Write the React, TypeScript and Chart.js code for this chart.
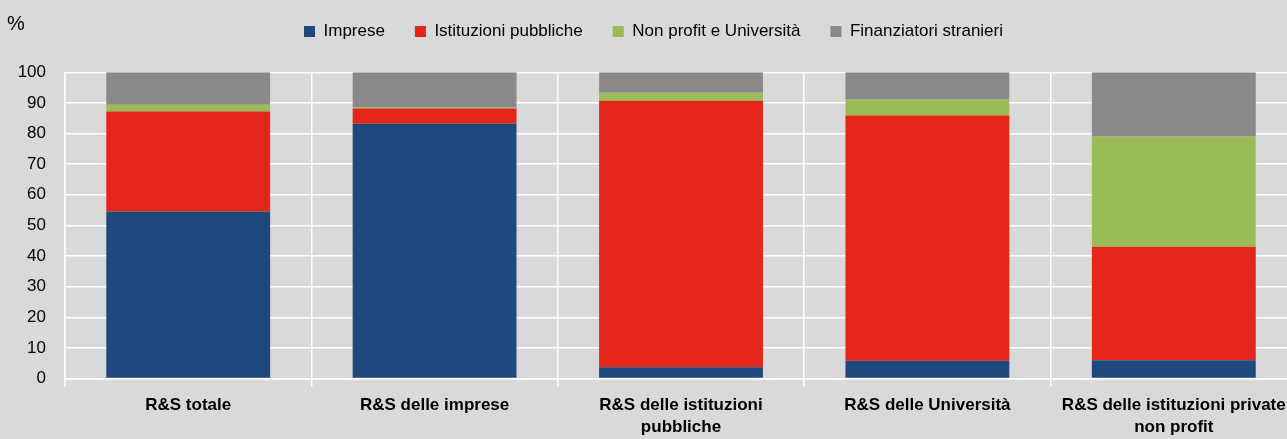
import React, { useEffect, useRef } from "react";
import { Chart, registerables } from "chart.js";

Chart.register(...registerables);

const FONT = "'Liberation Sans', Arial, Helvetica, sans-serif";

// Categories (x axis labels, multi-line where the reference wraps)
const categories: (string | string[])[] = [
  "R&S totale",
  "R&S delle imprese",
  ["R&S delle istituzioni", "pubbliche"],
  "R&S delle Università",
  ["R&S delle istituzioni private", "non profit"],
];

// Series names
const seriesNames = [
  "Imprese",
  "Istituzioni pubbliche",
  "Non profit e Università",
  "Finanziatori stranieri",
];

// Series values (%)
const imprese = [54.5, 83.2, 3.7, 5.8, 6.0];
const istituzioniPubbliche = [32.7, 5.0, 87.0, 80.1, 37.0];
const nonProfitUniversita = [2.2, 0.3, 2.6, 5.4, 36.0];
const finanziatoriStranieri = [10.6, 11.5, 6.7, 8.7, 21.0];

const seriesColors = ["#1f497d", "#e32619", "#9bbb59", "#898989"];

const yUnit = "%";
const yMin = 0;
const yMax = 100;
const yStep = 10;

export default function App() {
  const ref = useRef<HTMLCanvasElement>(null);

  useEffect(() => {
    if (!ref.current) return;
    const pctPlugin = {
      id: "pctLabel",
      afterDraw(chart: any) {
        const ctx = chart.ctx;
        ctx.save();
        ctx.font = `20px ${FONT}`;
        ctx.fillStyle = "#000";
        ctx.textAlign = "left";
        ctx.textBaseline = "middle";
        ctx.fillText(yUnit, 7, 24);
        ctx.restore();
      },
    };
    const values = [imprese, istituzioniPubbliche, nonProfitUniversita, finanziatoriStranieri];
    const chart = new Chart(ref.current, {
      type: "bar",
      data: {
        labels: categories as any,
        datasets: seriesNames.map((name, i) => ({
          label: name,
          data: values[i],
          backgroundColor: seriesColors[i],
          borderWidth: 0,
          barPercentage: 0.665,
          categoryPercentage: 1,
        })),
      },
      options: {
        responsive: false,
        animation: false,
        devicePixelRatio: 1,
        layout: { padding: { top: -7, left: 10, right: 13, bottom: 0 } },
        plugins: {
          legend: {
            position: "top",
            labels: {
              boxWidth: 11,
              boxHeight: 11,
              padding: 30,
              color: "#000",
              font: { size: 17, family: FONT },
            },
          },
          title: {
            display: true,
            text: " ",
            weight: 0,
            padding: { top: 0, bottom: 0 },
            font: { size: 22.3, lineHeight: 1, family: FONT },
          } as any,
          tooltip: { enabled: false },
        },
        scales: {
          x: {
            stacked: true,
            grid: { color: "#ffffff", lineWidth: 1.5, tickLength: 8, offset: true },
            border: { color: "#ffffff", width: 1.5 },
            ticks: {
              color: "#000",
              font: { size: 17, weight: "bold", family: FONT, lineHeight: 1.3 },
              padding: 8,
              maxRotation: 0,
              autoSkip: false,
            },
            afterFit: (s: any) => {
              s.height = 60.5;
            },
          },
          y: {
            stacked: true,
            min: yMin,
            max: yMax,
            ticks: {
              stepSize: yStep,
              color: "#000",
              font: { size: 17, family: FONT },
              padding: 19,
            },
            grid: { color: "#ffffff", lineWidth: 1.5, drawTicks: false },
            border: { color: "#ffffff", width: 1.5 },
            afterFit: (s: any) => {
              s.width = 55;
            },
          },
        },
      } as any,
      plugins: [pctPlugin],
    });
    return () => chart.destroy();
  }, []);

  return (
    <div
      style={{
        position: "absolute",
        left: 0,
        top: 0,
        width: 1287,
        height: 439,
        overflow: "hidden",
        background: "#d9d9d9",
      }}
    >
      <canvas ref={ref} width={1310} height={439} style={{ display: "block" }} />
    </div>
  );
}
